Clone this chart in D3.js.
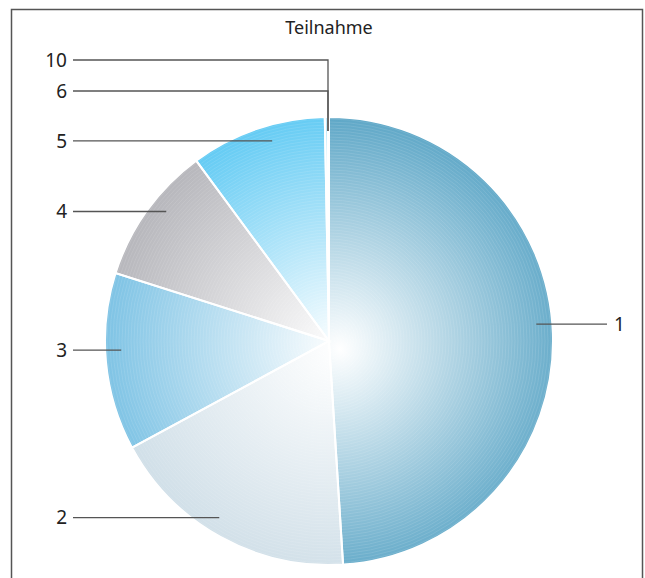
<!DOCTYPE html>
<html lang="de">
<head>
<meta charset="UTF-8">
<title>Teilnahme</title>
<script src="https://d3js.org/d3.v7.min.js"></script>
<style>
    body { margin: 0; background: white; }
    svg { display: block; font-family: "Noto Sans", "Open Sans", sans-serif; }
    .label { font-size: 19px; fill: #222; }
    .title { font-size: 18px; fill: #222; }
    .leader { stroke: #555; stroke-width: 1.3; fill: none; }
</style>
</head>
<body>
<svg width="645" height="578"></svg>
<script>
    const categories = ["1", "2", "3", "4", "5", "6", "10"];
    const shares = [49.0, 18.1, 12.8, 10.0, 9.8, 0.2, 0.1];
    const edgeColors = ["#5ea7c7", "#d0dfe8", "#80c4e5", "#b8b8bd", "#66ccf4", "#66ccf4", "#5ea7c7"];

    const svg = d3.select("svg");
    const cx = 329, cy = 341, R = 224;

    // frame
    svg.append("rect")
        .attr("x", 11.5).attr("y", 9.5)
        .attr("width", 631).attr("height", 620)
        .attr("fill", "none").attr("stroke", "#555").attr("stroke-width", 1.5);

    svg.append("text")
        .attr("class", "title")
        .attr("x", cx).attr("y", 34)
        .attr("text-anchor", "middle")
        .text("Teilnahme");

    const data = categories.map((c, i) => ({ cat: c, value: shares[i], color: edgeColors[i] }));

    const pie = d3.pie().sort(null).value(d => d.value);
    const arcs = pie(data);
    const arc = d3.arc().innerRadius(0).outerRadius(R);

    // gradients live in the pie group's coordinates (origin = pie centre)
    const defs = svg.append("defs");
    arcs.forEach((a, i) => {
        const g = defs.append("radialGradient")
            .attr("id", "grad" + i)
            .attr("gradientUnits", "userSpaceOnUse")
            .attr("cx", 11).attr("cy", 8).attr("r", R + 8);
        g.append("stop").attr("offset", "0%").attr("stop-color", "#ffffff");
        g.append("stop").attr("offset", "100%").attr("stop-color", a.data.color);
    });

    defs.append("clipPath").attr("id", "pieclip")
        .append("circle").attr("cx", cx).attr("cy", cy).attr("r", R);

    const g = svg.append("g").attr("transform", `translate(${cx},${cy})`);

    g.selectAll("path.slice")
        .data(arcs)
        .enter().append("path")
        .attr("class", "slice")
        .attr("d", arc)
        .attr("fill", (d, i) => `url(#grad${i})`);

    // fine concentric ring texture
    const rings = svg.append("g").attr("clip-path", "url(#pieclip)");
    rings.selectAll("circle")
        .data(d3.range(3, R + 3, 3))
        .enter().append("circle")
        .attr("cx", cx).attr("cy", cy).attr("r", d => d)
        .attr("fill", "none")
        .attr("stroke", "#ffffff")
        .attr("stroke-opacity", 0.16)
        .attr("stroke-width", 0.7);

    // separators
    g.selectAll("path.sep")
        .data(arcs)
        .enter().append("path")
        .attr("class", "sep")
        .attr("d", arc)
        .attr("fill", "none")
        .attr("stroke", "#ffffff")
        .attr("stroke-width", 2);

    // labels: anchor near mid-angle, nudged a little toward 12 o'clock
    const anchorR = 208;
    const nudge = 0.05;
    const leftX = 73, rightX = 607;
    let tinyCount = 0;
    arcs.forEach(a => {
        let mid = (a.startAngle + a.endAngle) / 2;
        mid += Math.sin(mid) > 0 ? -nudge : nudge;
        const ax = cx + anchorR * Math.sin(mid);
        const ay = cy - anchorR * Math.cos(mid);
        const tiny = (a.endAngle - a.startAngle) < 0.05;
        if (tiny) {
            const ly = cy - R - 26 - tinyCount * 31;
            const tx = cx - 1;
            tinyCount++;
            svg.append("path").attr("class", "leader")
                .attr("d", `M${leftX},${ly}H${tx}V${cy - anchorR - 2}`);
            svg.append("text").attr("class", "label")
                .attr("x", leftX - 6).attr("y", ly).attr("dy", "0.35em")
                .attr("text-anchor", "end").text(a.data.cat);
        } else if (Math.sin(mid) > 0) {
            svg.append("path").attr("class", "leader")
                .attr("d", `M${ax},${ay}H${rightX}`);
            svg.append("text").attr("class", "label")
                .attr("x", rightX + 7).attr("y", ay).attr("dy", "0.35em")
                .attr("text-anchor", "start").text(a.data.cat);
        } else {
            svg.append("path").attr("class", "leader")
                .attr("d", `M${leftX},${ay}H${ax}`);
            svg.append("text").attr("class", "label")
                .attr("x", leftX - 6).attr("y", ay).attr("dy", "0.35em")
                .attr("text-anchor", "end").text(a.data.cat);
        }
    });
</script>
</body>
</html>
